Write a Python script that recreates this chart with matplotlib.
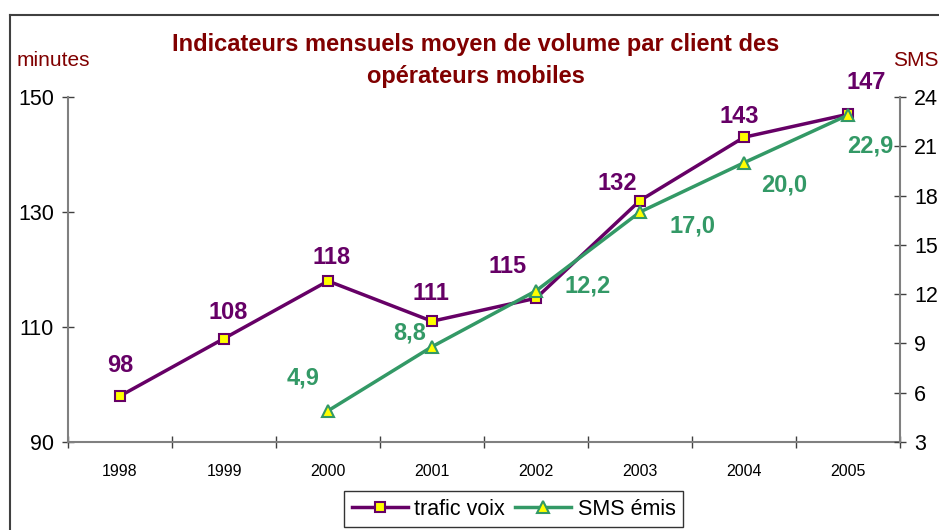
import matplotlib.pyplot as plt
from matplotlib.lines import Line2D

plt.rcParams['font.family'] = ['Liberation Sans', 'DejaVu Sans']

years = ['1998', '1999', '2000', '2001', '2002', '2003', '2004', '2005']
voix = [98, 108, 118, 111, 115, 132, 143, 147]
sms_years = ['2000', '2001', '2002', '2003', '2004', '2005']
sms = [4.9, 8.8, 12.2, 17.0, 20.0, 22.9]
sms_labels = ['4,9', '8,8', '12,2', '17,0', '20,0', '22,9']

# label offsets in pixels (dx, dy)
voix_off = [(0, 31), (4, 26), (4, 23), (-1, 28), (-28, 32), (-23, 17), (-5, 21), (18, 32)]
sms_off = [(-25, 33), (-22, 14), (52, 5), (52, -14), (40, -22), (22, -31)]

purple = '#660066'
green = '#339966'
darkred = '#800000'

fig = plt.figure(figsize=(9.39, 5.30), dpi=100)
ax = fig.add_axes([68 / 939, 88 / 530, 832 / 939, 345 / 530])
ax2 = ax.twinx()

x = list(range(len(years)))
xs = [years.index(y) for y in sms_years]

ax.plot(x, voix, color=purple, lw=2.5, marker='s', ms=7.5,
        mfc='#ffff00', mec=purple, mew=1.5, clip_on=False, zorder=3)
ax2.plot(xs, sms, color=green, lw=2.5, marker='^', ms=9,
         mfc='#ffff00', mec=green, mew=1.5, clip_on=False, zorder=3)

for xi, v, (dx, dy) in zip(x, voix, voix_off):
    ax.annotate(str(v), (xi, v), xytext=(dx, dy), textcoords='offset pixels',
                ha='center', va='center', color=purple, fontsize=17,
                fontweight='bold', annotation_clip=False)
for xi, v, t, (dx, dy) in zip(xs, sms, sms_labels, sms_off):
    ax2.annotate(t, (xi, v), xytext=(dx, dy), textcoords='offset pixels',
                 ha='center', va='center', color=green, fontsize=17,
                 fontweight='bold', annotation_clip=False)

ax.set_xlim(-0.5, 7.5)
ax.set_ylim(90, 150)
ax2.set_ylim(3, 24)
ax.set_yticks([90, 110, 130, 150])
ax2.set_yticks([3, 6, 9, 12, 15, 18, 21, 24])
ax.set_xticks(x)
ax.set_xticklabels(years)
ax.set_xticks([i + 0.5 for i in range(-1, 8)], minor=True)

for a in (ax, ax2):
    for s in a.spines.values():
        s.set_visible(False)
ax.spines['left'].set_visible(True)
ax.spines['bottom'].set_visible(True)
ax2.spines['right'].set_visible(True)
for s in (ax.spines['left'], ax.spines['bottom'], ax2.spines['right']):
    s.set_color('#808080')
    s.set_linewidth(1.5)

ax.tick_params(axis='y', direction='inout', length=8, width=1, color='#404040',
               labelsize=15.5, pad=6)
ax2.tick_params(axis='y', direction='inout', length=8, width=1, color='#404040',
                labelsize=15.5, pad=6)
ax.tick_params(axis='x', which='major', length=0, labelsize=11.5, pad=16)
ax.tick_params(axis='x', which='minor', direction='inout', length=8, width=1,
               color='#404040')

fig.text(476 / 939, 1 - 45 / 530, 'Indicateurs mensuels moyen de volume par client des',
         ha='center', va='center', color=darkred, fontsize=17, fontweight='bold')
fig.text(476 / 939, 1 - 77 / 530, 'opérateurs mobiles',
         ha='center', va='center', color=darkred, fontsize=17, fontweight='bold')
fig.text(17 / 939, 1 - 61 / 530, 'minutes', ha='left', va='center',
         color=darkred, fontsize=15)
fig.text(893 / 939, 1 - 61 / 530, 'SMS', ha='left', va='center',
         color=darkred, fontsize=15)

# chart border (cropped on right and bottom)
fig.add_artist(Line2D([10 / 939, 10 / 939], [0, 1 - 15 / 530], color='#404040', lw=1.5))
fig.add_artist(Line2D([10 / 939, 1], [1 - 15 / 530, 1 - 15 / 530], color='#404040', lw=1.5))

h1 = Line2D([], [], color=purple, lw=2.5, marker='s', ms=7.5, mfc='#ffff00',
            mec=purple, mew=1.5)
h2 = Line2D([], [], color=green, lw=2.5, marker='^', ms=9, mfc='#ffff00',
            mec=green, mew=1.5)
leg = fig.legend([h1, h2], ['trafic voix', 'SMS émis'], loc='upper left',
                 bbox_to_anchor=(344 / 939, 1 - 491 / 530), ncol=2, fontsize=15.5,
                 frameon=True, fancybox=False, edgecolor='black', handlelength=2.6,
                 columnspacing=0.5, handletextpad=0.3, borderpad=0.35,
                 borderaxespad=0)
leg.get_frame().set_linewidth(1)

fig.savefig('out.png', dpi=100)
